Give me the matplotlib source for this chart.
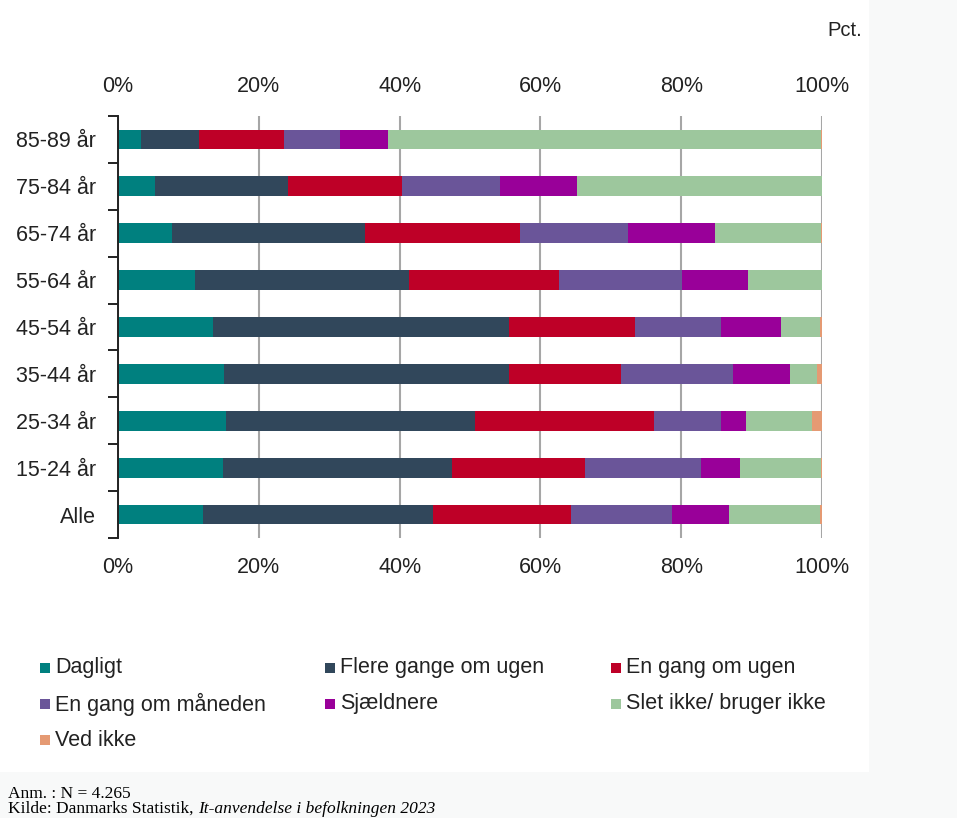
import matplotlib.pyplot as plt
import numpy as np
from matplotlib.patches import Rectangle

# Data (pct.), top row first
groups = ["85-89 år", "75-84 år", "65-74 år", "55-64 år", "45-54 år",
          "35-44 år", "25-34 år", "15-24 år", "Alle"]
series = ["Dagligt", "Flere gange om ugen", "En gang om ugen",
          "En gang om måneden", "Sjældnere", "Slet ikke/ bruger ikke", "Ved ikke"]
colors = ["#00807f", "#31475b", "#be0027", "#6a5599", "#990099", "#9dc79d", "#e59a73"]

dagligt  = [3.3, 5.3, 7.7, 10.9, 13.5, 15.0, 15.3, 14.9, 12.1]
flere    = [8.2, 18.8, 27.4, 30.4, 42.1, 40.6, 35.4, 32.5, 32.7]
en_uge   = [12.1, 16.3, 22.0, 21.3, 17.8, 15.8, 25.4, 19.0, 19.5]
en_maned = [8.0, 13.8, 15.4, 17.5, 12.3, 16.0, 9.6, 16.4, 14.4]
sjaeld   = [6.8, 11.0, 12.3, 9.4, 8.5, 8.0, 3.5, 5.6, 8.1]
slet     = [61.4, 34.8, 15.0, 10.5, 5.5, 3.9, 9.4, 11.5, 12.9]
ved_ikke = [0.2, 0.0, 0.2, 0.0, 0.3, 0.7, 1.4, 0.1, 0.3]

values = [dagligt, flere, en_uge, en_maned, sjaeld, slet, ved_ikke]

plt.rcParams['font.family'] = ['Liberation Sans', 'DejaVu Sans']

fig = plt.figure(figsize=(9.57, 8.18), dpi=100)
W, H = 957, 818

# faint background outside the chart panel
fig.patches.append(Rectangle((0, 0), 1, 1, transform=fig.transFigure,
                             facecolor="#f8f9f9", edgecolor="none", zorder=-10))
fig.patches.append(Rectangle((0, 1 - 772 / H), 869 / W, 772 / H, transform=fig.transFigure,
                             facecolor="white", edgecolor="none", zorder=-9))

ax = fig.add_axes([118 / W, 1 - 538 / H, (822 - 118) / W, (538 - 116) / H])
ax.set_facecolor("none")

y = np.arange(len(groups))
left = np.zeros(len(groups))
for name, vals, c in zip(series, values, colors):
    ax.barh(y, vals, left=left, height=0.42, color=c, label=name, zorder=3)
    left += np.array(vals)

ax.set_xlim(0, 100)
ax.set_ylim(len(groups) - 0.5, -0.5)
ax.set_xticks(np.arange(0, 101, 20))
ax.set_xticklabels([f"{v}%" for v in range(0, 101, 20)])
ax.tick_params(axis="x", length=0, labelsize=15.5, top=True, labeltop=True,
               bottom=False, labelbottom=True, pad=14, colors="#222222")
ax.set_yticks(y)
ax.set_yticklabels(groups)
ax.tick_params(axis="y", length=0, labelsize=15.5, pad=16, colors="#222222")
ax.set_yticks(np.arange(-0.5, len(groups)), minor=True)
ax.tick_params(axis="y", which="minor", length=7, width=1.4, color="#222222")
ax.grid(axis="x", color="#a6a6a6", linewidth=1.5, zorder=0)
for s in ["top", "right", "bottom"]:
    ax.spines[s].set_visible(False)
ax.spines["left"].set_linewidth(1.4)
ax.spines["left"].set_color("#222222")
ax.spines["left"].set_zorder(4)

fig.text(862 / W, 1 - 31 / H, "Pct.", ha="right", va="center", fontsize=14.5,
         color="#222222")

# legend, laid out row by row in three columns
col_x = [40, 325, 611]
row_y = [668, 704, 740]
for i, (name, c) in enumerate(zip(series, colors)):
    cx = col_x[i % 3]
    cy = row_y[i // 3]
    fig.patches.append(Rectangle((cx / W, 1 - (cy + 5) / H), 10 / W, 10 / H,
                                 transform=fig.transFigure, facecolor=c,
                                 edgecolor="none"))
    fig.text((cx + 15) / W, 1 - cy / H, name, ha="left", va="center",
             fontsize=15.5, color="#222222")

# notes
fig.text(8 / W, 1 - 794 / H, "Anm. : N = 4.265", ha="left", va="center",
         fontsize=12.5, family="Liberation Serif")
t = fig.text(8 / W, 1 - 809 / H, "Kilde: Danmarks Statistik, ", ha="left", va="center",
             fontsize=12.5, family="Liberation Serif")
fig.canvas.draw()
bb = t.get_window_extent()
fig.text(bb.x1 / W, 1 - 809 / H, "It-anvendelse i befolkningen 2023", ha="left",
         va="center", fontsize=12.5, family="Liberation Serif", style="italic")

fig.savefig("out.png", dpi=100)
